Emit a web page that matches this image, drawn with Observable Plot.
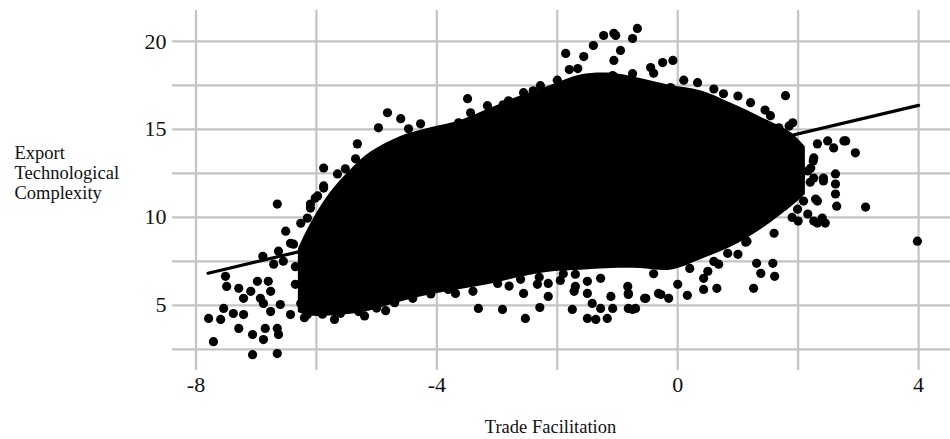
<!DOCTYPE html>
<html>
<head>
<meta charset="utf-8">
<script src="https://cdn.jsdelivr.net/npm/d3@7"></script>
<script src="https://cdn.jsdelivr.net/npm/@observablehq/plot@0.6"></script>
<style>
  html, body { margin: 0; padding: 0; background: #fff; }
  #chart { width: 950px; height: 439px; }
  svg { display: block; }
</style>
</head>
<body>
<div id="chart"></div>
<script>
// Axis ticks and grid
const xTicks = [-8, -4, 0, 4];
const yTicks = [5, 10, 15, 20];
const xGrid = [-8, -6, -4, -2, 0, 2, 4];
const yGrid = [2.5, 5, 7.5, 10, 12.5, 15, 17.5, 20];

// Dense core of the cloud: envelope
const cloudX  = [-6.30, -6.10, -5.77, -5.43, -5.10, -4.60, -4.10, -3.61, -3.11, -2.61, -2.11, -1.61, -1.11, -0.62, -0.12, 0.38, 0.88, 1.38, 1.89, 2.12];
const cloudHi = [8.2, 9.6, 11.4, 12.7, 13.7, 14.6, 15.1, 15.5, 16.2, 16.9, 17.5, 18.1, 18.2, 17.9, 17.5, 17.2, 16.5, 15.7, 14.8, 14.0];
const cloudLo = [4.6, 4.4, 4.4, 4.5, 4.7, 5.2, 5.6, 5.9, 6.2, 6.6, 6.9, 7.0, 7.1, 7.1, 7.0, 7.6, 8.3, 9.3, 10.6, 11.3];

// Scattered points around the edges of the cloud
const ptX = [
  -6.65,-6.26,-6.51,-6.43,-6.89,-6.63,-7.51,-7.49,-7.29,-7.09,-7.54,-7.79,-7.59,-7.38,-7.21,-7.71,-7.06,-6.65,-6.85,-6.65,
  -6.63,-7.06,-6.88,-6.43,-6.15,-6.98,-6.80,-7.21,-6.76,-6.60,-6.26,-6.38,-6.55,-6.71,-6.76,-6.93,-5.88,-5.98,-6.10,-6.15,
  -7.29,-6.88,
  -5.88,-5.88,-5.65,-5.52,-5.32,-5.35,-4.97,-4.82,-4.60,-4.47,-4.27,-4.49,-4.32,-3.64,-3.49,-3.44,-6.10,-6.02,
  -1.86,-1.56,-1.66,-1.40,-1.23,-1.06,-0.67,-0.75,-1.08,-1.03,-0.95,-1.06,-0.45,-0.25,-0.08,-0.12,-0.75,-2.28,-2.56,-2.81,
  -3.16,0.33,
  1.79,1.91,2.79,2.95,2.59,2.32,2.26,2.62,2.62,2.62,2.64,3.12,2.21,2.42,2.04,2.32,2.09,2.16,2.40,3.98,
  1.31,1.58,1.38,1.61,1.26,0.65,1.13,0.68,0.16,-0.15,-0.32,-0.55,-0.75,0.43,0.83,0.50,0.00,2.00,0.76,1.21,
  1.54,1.68,2.49,2.76,2.16,2.26,2.42,2.29,1.99,2.32,2.45,1.15,0.43,2.26,
  -3.31,-2.91,-2.53,-2.29,-2.56,-2.33,-2.15,-2.15,-1.95,-2.99,-1.75,-1.70,-1.50,-1.36,-1.17,-1.08,-1.28,-1.42,-1.50,-1.11,
  -0.82,-0.70,-0.82,-1.70,-1.50,-1.28,-3.81,-3.69,-3.55,-2.61,-1.72,-0.83,-0.82,-0.53,-0.28,
  -5.90,-5.60,-5.30,-5.00,-4.70,-4.40,-4.10,
  -2.90,-2.40,-2.00,-1.80,-0.40,0.10,0.60,1.00,1.45,1.85,
  -3.40,-2.80,-2.30,-1.90,-0.40,0.20,0.60,1.00,1.60,1.90,
  -6.20,-5.70,-5.20,-4.85,-6.35,-6.35,2.20,2.25
];
const ptY = [
  10.76,9.67,9.22,8.53,7.79,8.08,6.65,6.08,5.97,5.80,4.83,4.26,4.20,4.54,4.48,2.94,2.20,2.26,3.69,3.69,
  3.34,3.34,5.11,4.48,4.48,6.37,6.37,5.40,4.65,5.05,5.11,8.48,7.51,7.34,5.80,5.40,11.79,11.22,10.53,9.96,
  3.69,3.06,
  12.81,11.67,12.47,12.76,14.18,13.33,15.09,15.95,15.61,15.04,15.32,14.35,14.52,15.38,16.75,15.95,10.76,11.10,
  19.32,19.14,18.46,19.77,20.34,20.46,20.74,20.17,18.06,20.34,19.49,18.92,18.52,18.80,18.92,17.38,18.17,17.49,17.09,16.63,
  16.35,17.66,
  16.92,15.38,14.35,13.67,13.95,14.18,13.38,12.47,11.90,11.33,10.64,10.59,12.81,12.07,12.36,10.93,10.93,10.19,9.96,8.65,
  7.39,7.39,6.82,6.65,5.97,5.97,8.59,7.34,5.57,5.40,5.68,5.40,4.77,5.91,7.96,6.94,6.20,9.79,17.03,16.52,
  15.78,15.09,14.35,14.35,12.64,12.24,12.24,11.04,10.47,9.68,9.68,8.65,6.54,9.79,
  4.83,4.77,4.26,4.88,5.68,6.20,6.25,5.51,6.42,6.25,4.77,6.08,4.26,4.20,4.26,4.83,4.83,5.11,5.68,5.51,
  4.83,4.83,5.68,6.77,6.37,6.54,5.91,5.68,6.37,6.48,5.80,6.08,5.62,5.40,5.62,
  4.50,4.55,4.65,4.85,5.15,5.40,5.65,
  16.40,17.20,17.80,18.40,18.20,17.80,17.30,16.90,16.10,15.20,
  5.80,6.10,6.60,6.80,6.80,7.10,7.50,7.90,9.10,10.00,
  4.30,4.20,4.40,4.70,6.20,7.20,12.00,13.20
];

// Fitted line endpoints
const fitX = [-7.8, 4.0];
const fitY = [6.83, 16.37];

const cloud = cloudX.map((x, i) => ({x, lo: cloudLo[i], hi: cloudHi[i]}));
const pts = ptX.map((x, i) => ({x, y: ptY[i]}));
const fit = fitX.map((x, i) => ({x, y: fitY[i]}));

const serif = "'Liberation Serif', 'DejaVu Serif', serif";
const gridColor = "#c4c4c4";

const chart = Plot.plot({
  width: 950,
  height: 439,
  marginLeft: 172,
  marginRight: 0,
  marginTop: 10,
  marginBottom: 69,
  style: {fontFamily: serif, background: "#fff", overflow: "visible"},
  x: {domain: [-8.39, 4.53]},
  y: {domain: [1.3, 21.76]},
  marks: [
    Plot.ruleX(xGrid, {stroke: gridColor, strokeWidth: 2.2}),
    Plot.ruleY(yGrid, {stroke: gridColor, strokeWidth: 2.2}),
    Plot.areaY(cloud, {x: "x", y1: "lo", y2: "hi", fill: "black", curve: "catmull-rom"}),
    Plot.dot(pts, {x: "x", y: "y", r: 4.6, fill: "black", stroke: "none"}),
    Plot.line(fit, {x: "x", y: "y", stroke: "black", strokeWidth: 3.2}),
    Plot.axisX(xTicks, {tickSize: 0, tickPadding: 6, fontSize: 22, label: null, tickFormat: d => String(d), fill: "#111"}),
    Plot.axisY(yTicks, {tickSize: 0, tickPadding: 6, fontSize: 22, label: null, tickFormat: d => String(d), fill: "#111"}),
    Plot.text(["Trade Facilitation"], {frameAnchor: "bottom", dx: -11, dy: 62, fontSize: 18.5, fill: "#111", textAnchor: "middle", lineAnchor: "bottom"}),
    Plot.text(["Export\nTechnological\nComplexity"], {frameAnchor: "left", dx: -158, dy: -18, fontSize: 18.5, lineHeight: 1.1, fill: "#111", textAnchor: "start"})
  ]
});
document.getElementById("chart").appendChild(chart);
</script>
</body>
</html>
